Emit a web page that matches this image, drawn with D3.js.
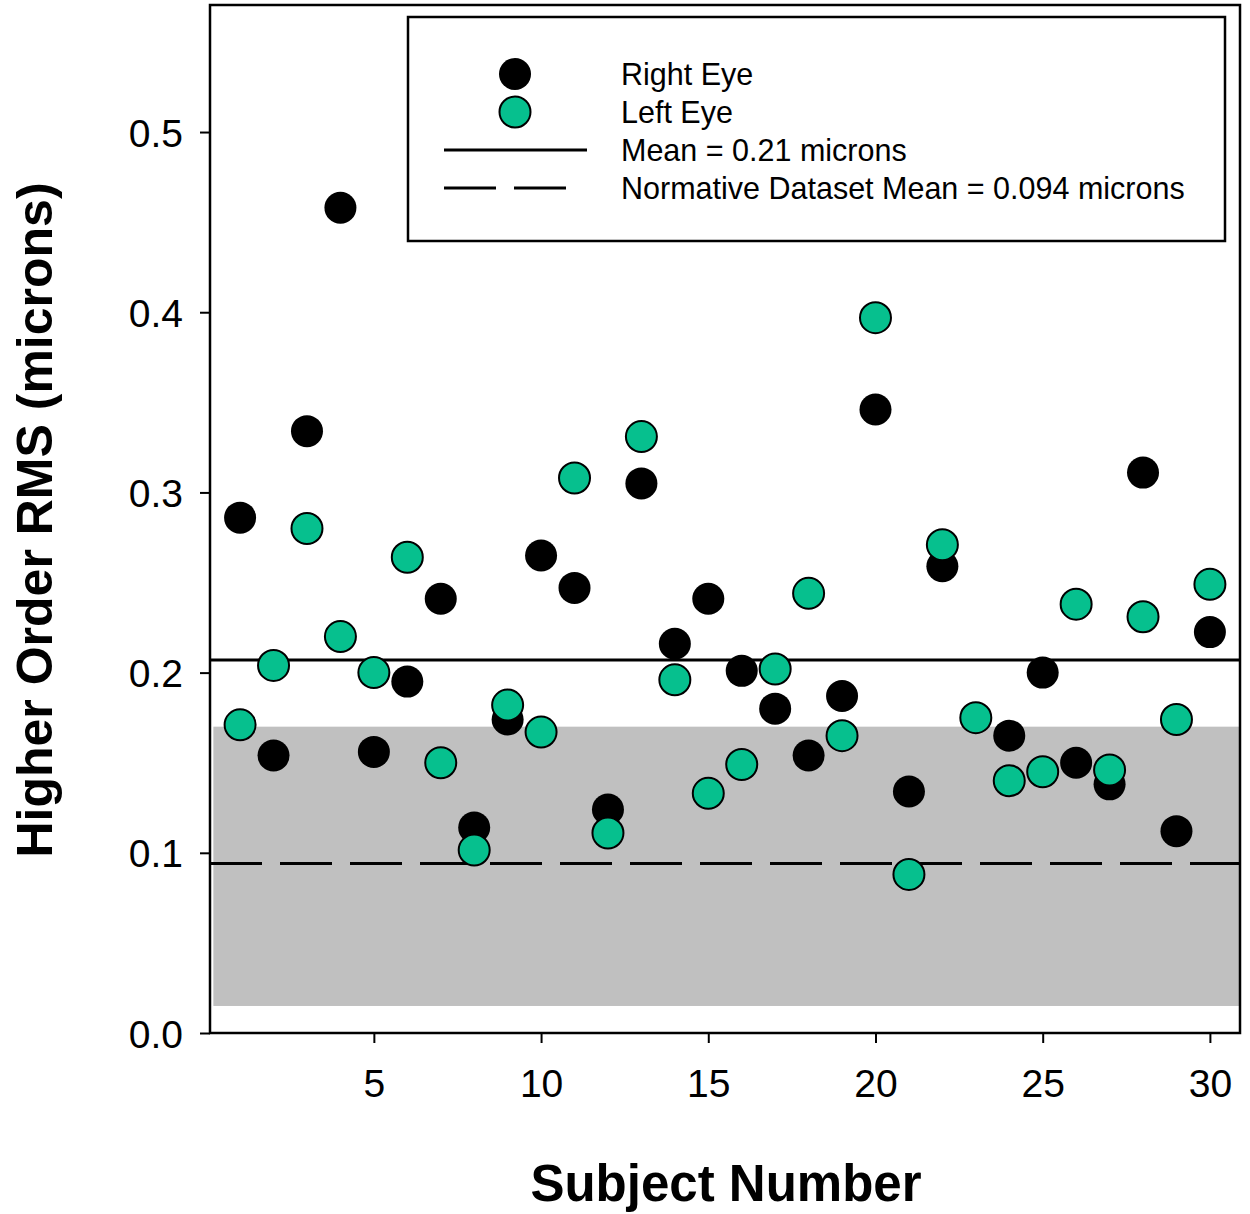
<!DOCTYPE html>
<html>
<head>
<meta charset="utf-8">
<script src="https://cdn.jsdelivr.net/npm/d3@7"></script>
<style>
  body { margin: 0; background: #fff; }
  svg { display: block; font-family: "Liberation Sans", Arial, sans-serif; }
</style>
</head>
<body>
<svg width="1250" height="1214"></svg>
<script>
// subject numbers and higher order RMS (microns) per eye
const subjects = d3.range(1, 31);
const rightEye = [0.286, 0.154, 0.334, 0.458, 0.156, 0.195, 0.241, 0.114, 0.174, 0.265,
                  0.247, 0.124, 0.305, 0.216, 0.241, 0.201, 0.180, 0.154, 0.187, 0.346,
                  0.134, 0.259, null, 0.165, 0.200, 0.150, 0.138, 0.311, 0.112, 0.2225];
const leftEye  = [0.171, 0.204, 0.280, 0.220, 0.200, 0.264, 0.150, 0.1015, 0.182, 0.167,
                  0.308, 0.111, 0.331, 0.196, 0.133, 0.149, 0.202, 0.244, 0.165, 0.397,
                  0.088, 0.271, 0.175, 0.140, 0.145, 0.238, 0.146, 0.231, 0.174, 0.249];
const meanValue = 0.207;
const normMean = 0.094;
const normBand = [0.015, 0.170];
const yTicks = [0, 0.1, 0.2, 0.3, 0.4, 0.5];
const xTicks = [5, 10, 15, 20, 25, 30];
const legendItems = ["Right Eye", "Left Eye", "Mean = 0.21 microns", "Normative Dataset Mean = 0.094 microns"];

const svg = d3.select("svg");
const plotL = 210, plotR = 1240, plotT = 5, plotB = 1033;
const green = "#06c08e";

const x = d3.scaleLinear().domain([0.1, 30.9]).range([plotL, plotR]);
const y = d3.scaleLinear().domain([0, 0.5705]).range([plotB, plotT]);

// normative range band
svg.append("rect")
    .attr("x", x(0.2)).attr("width", plotR - x(0.2))
    .attr("y", y(normBand[1])).attr("height", y(normBand[0]) - y(normBand[1]))
    .attr("fill", "#c0c0c0");

// mean lines
svg.append("line")
    .attr("x1", plotL).attr("x2", plotR)
    .attr("y1", y(meanValue)).attr("y2", y(meanValue))
    .attr("stroke", "#000").attr("stroke-width", 3);
svg.append("line")
    .attr("x1", plotL).attr("x2", plotR)
    .attr("y1", y(normMean)).attr("y2", y(normMean))
    .attr("stroke", "#000").attr("stroke-width", 3)
    .attr("stroke-dasharray", "52 18");

// axes
const yAxis = svg.append("g")
    .attr("transform", `translate(${plotL},0)`)
    .call(d3.axisLeft(y).tickValues(yTicks).tickFormat(d3.format(".1f")).tickSize(10).tickSizeOuter(0));
const xAxis = svg.append("g")
    .attr("transform", `translate(0,${plotB})`)
    .call(d3.axisBottom(x).tickValues(xTicks).tickSize(10).tickSizeOuter(0));
[yAxis, xAxis].forEach(g => {
    g.select(".domain").remove();
    g.selectAll(".tick line").attr("stroke", "#000").attr("stroke-width", 2);
    g.selectAll(".tick text").attr("font-size", 39).attr("font-family", "Liberation Sans, Arial, sans-serif").attr("fill", "#000");
});
yAxis.selectAll(".tick text").attr("x", -27).attr("dy", "0.36em");
xAxis.selectAll(".tick text").attr("y", 36);

// plot frame
svg.append("rect")
    .attr("x", plotL).attr("y", plotT)
    .attr("width", plotR - plotL).attr("height", plotB - plotT)
    .attr("fill", "none").attr("stroke", "#000").attr("stroke-width", 2.5);

// points
svg.append("g").selectAll("circle")
    .data(subjects.filter((d, i) => rightEye[i] != null))
    .join("circle")
    .attr("cx", d => x(d)).attr("cy", d => y(rightEye[d - 1]))
    .attr("r", 16).attr("fill", "#000");
svg.append("g").selectAll("circle")
    .data(subjects)
    .join("circle")
    .attr("cx", d => x(d)).attr("cy", d => y(leftEye[d - 1]))
    .attr("r", 15.5).attr("fill", green)
    .attr("stroke", "#000").attr("stroke-width", 2);

// legend
const lg = svg.append("g");
lg.append("rect")
    .attr("x", 408).attr("y", 17).attr("width", 817).attr("height", 224)
    .attr("fill", "#fff").attr("stroke", "#000").attr("stroke-width", 2.5);
const rowY = [74, 112, 150, 188];
lg.append("circle").attr("cx", 515).attr("cy", rowY[0]).attr("r", 16).attr("fill", "#000");
lg.append("circle").attr("cx", 515).attr("cy", rowY[1]).attr("r", 15.5)
    .attr("fill", green).attr("stroke", "#000").attr("stroke-width", 2);
lg.append("line").attr("x1", 444).attr("x2", 587).attr("y1", rowY[2]).attr("y2", rowY[2])
    .attr("stroke", "#000").attr("stroke-width", 3);
lg.append("line").attr("x1", 444).attr("x2", 567).attr("y1", rowY[3]).attr("y2", rowY[3])
    .attr("stroke", "#000").attr("stroke-width", 3).attr("stroke-dasharray", "52 18");
lg.selectAll("text")
    .data(legendItems)
    .join("text")
    .attr("x", 621).attr("y", (d, i) => rowY[i]).attr("dy", "0.36em")
    .attr("font-size", 30.5).attr("fill", "#000")
    .text(d => d);

// axis titles
svg.append("text")
    .attr("x", (plotL + plotR) / 2 + 1).attr("y", 1201)
    .attr("text-anchor", "middle").attr("font-size", 51).attr("font-weight", "bold")
    .text("Subject Number");
svg.append("text")
    .attr("transform", "translate(52,520) rotate(-90)")
    .attr("text-anchor", "middle").attr("font-size", 50).attr("font-weight", "bold")
    .text("Higher Order RMS (microns)");
</script>
</body>
</html>
